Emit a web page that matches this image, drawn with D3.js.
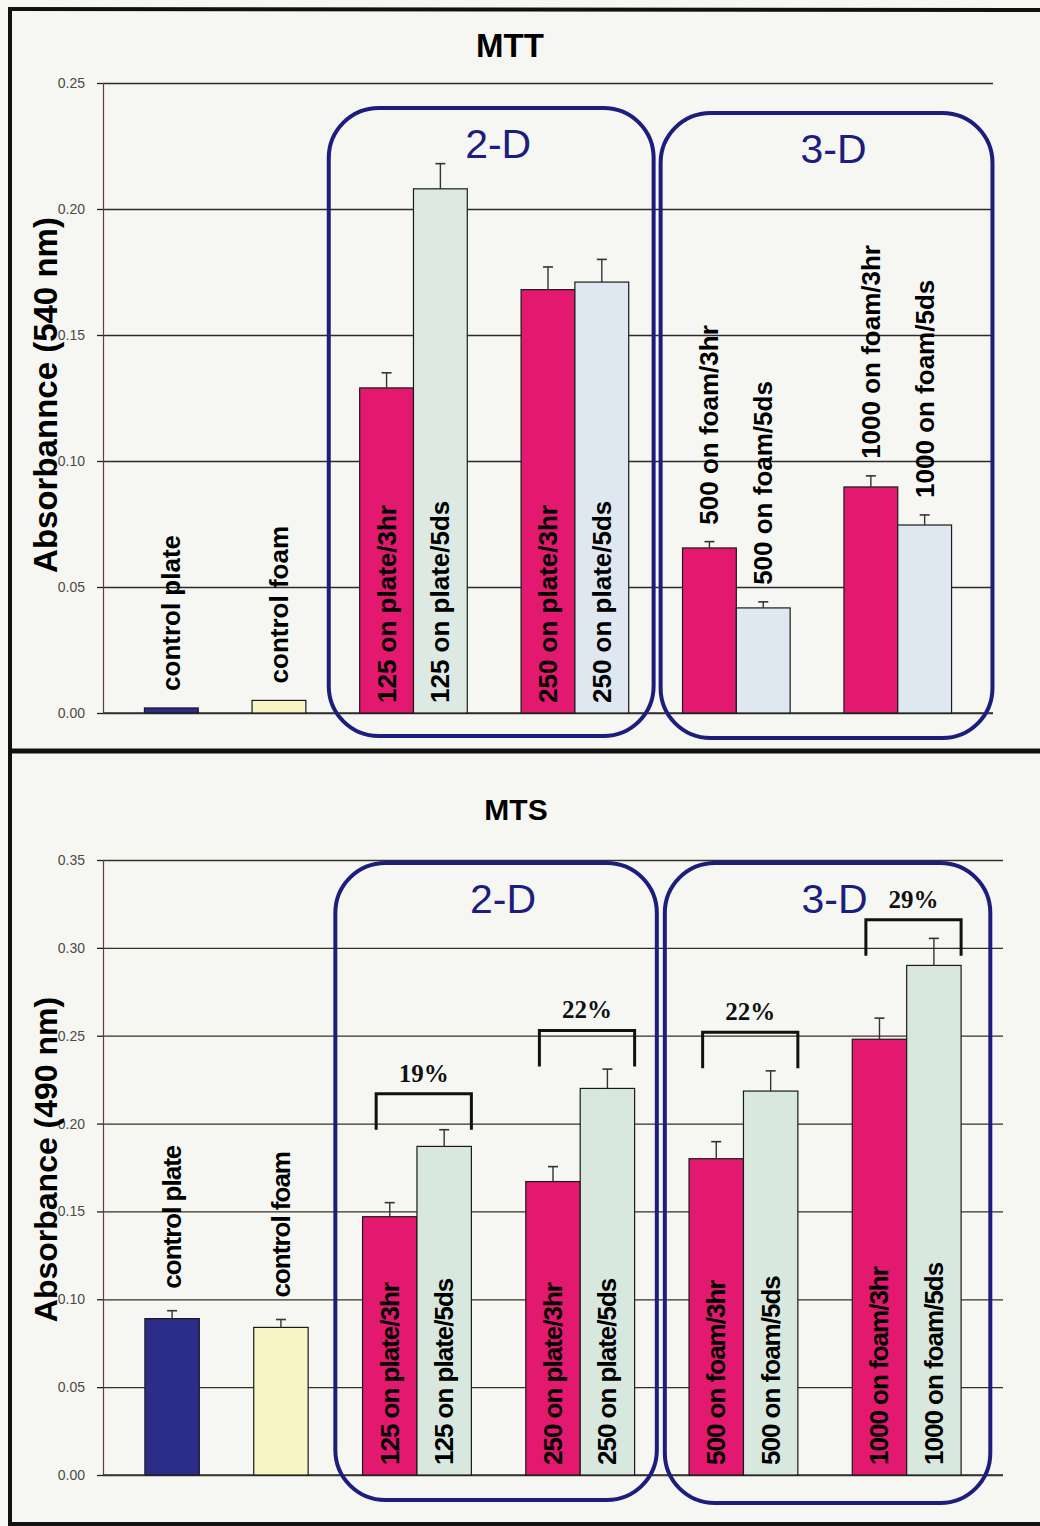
<!DOCTYPE html>
<html>
<head>
<meta charset="utf-8">
<script src="https://cdn.jsdelivr.net/npm/d3@7"></script>
<style>
  html, body { margin: 0; padding: 0; background: #f6f7f3; }
  svg { display: block; }
</style>
</head>
<body>
<svg id="fig" width="1040" height="1526"></svg>
<script>
// ---- data ----
const barLabels = [
  "control plate", "control foam",
  "125 on plate/3hr", "125 on plate/5ds",
  "250 on plate/3hr", "250 on plate/5ds",
  "500 on foam/3hr", "500 on foam/5ds",
  "1000 on foam/3hr", "1000 on foam/5ds"
];
// cluster each bar belongs to (bars of one cluster sit side by side)
const barClusters = ["control plate", "control foam", "125", "125", "250", "250", "500", "500", "1000", "1000"];

// MTT assay, absorbance at 540 nm
const mttValues = [0.002, 0.005, 0.129, 0.208, 0.168, 0.171, 0.0655, 0.0417, 0.0897, 0.0746];
const mttErrors = [0, 0, 0.006, 0.010, 0.009, 0.009, 0.0025, 0.0024, 0.0044, 0.0040];
const mttTicks = [0, 0.05, 0.10, 0.15, 0.20, 0.25];

// MTS assay, absorbance at 490 nm
const mtsValues = [0.089, 0.084, 0.147, 0.187, 0.167, 0.220, 0.180, 0.2185, 0.248, 0.290];
const mtsErrors = [0.0045, 0.0045, 0.008, 0.0095, 0.0085, 0.011, 0.0097, 0.0115, 0.012, 0.0154];
const mtsTicks = [0, 0.05, 0.10, 0.15, 0.20, 0.25, 0.30, 0.35];

// culture format boxes
const formatNames = ["2-D", "3-D"];
const formatClusters = [["125", "250"], ["500", "1000"]];

// MTS increase brackets (3hr -> 5ds)
const bracketLabels = ["19%", "22%", "22%", "29%"];
const bracketClusters = ["125", "250", "500", "1000"];
const bracketLevels = [0.217, 0.253, 0.252, 0.316];

// ---- drawing ----
const W = 1040, H = 1526;
const svg = d3.select("#fig");
svg.append("rect").attr("width", W).attr("height", H).attr("fill", "#f6f7f3");

const NAVY = "#1d1d7e";
const SANS = "'Liberation Sans', Arial, Helvetica, sans-serif";
const SERIF = "'Liberation Serif', 'Times New Roman', serif";

// slot index of each bar: one empty slot between clusters
function slotIndices(clusters) {
  let s = 0;
  return clusters.map((c, i) => {
    if (i > 0) s += (c === clusters[i - 1]) ? 1 : 2;
    return s;
  });
}
const slots = slotIndices(barClusters);
const nSlots = d3.max(slots) + 1;

function drawChart(cfg) {
  const g = svg.append("g");
  const x = d3.scaleBand()
    .domain(d3.range(nSlots))
    .range(cfg.xRange)
    .paddingInner(0)
    .paddingOuter(0.77);
  const y = d3.scaleLinear().domain([0, cfg.yMax]).range(cfg.yRange);
  const bw = x.bandwidth();
  const slotCenter = s => x(0) + (s + 0.5) * x.step();

  // gridlines
  g.append("g")
    .attr("transform", `translate(${cfg.xRange[0]},0)`)
    .call(d3.axisLeft(y).tickValues(cfg.ticks).tickSize(-(cfg.xRange[1] - cfg.xRange[0])).tickFormat(""))
    .call(a => a.select(".domain").remove())
    .call(a => a.selectAll("line").attr("stroke", cfg.gridColor).attr("stroke-width", 1.3));

  // y axis
  g.append("g")
    .attr("transform", `translate(${cfg.xRange[0]},0)`)
    .call(d3.axisLeft(y).tickValues(cfg.ticks).tickSize(6).tickPadding(12).tickFormat(d3.format(".2f")))
    .call(a => a.select(".domain").attr("stroke", "#5e3a58").attr("stroke-width", 1.2))
    .call(a => a.selectAll("line").attr("stroke", "#222").attr("stroke-width", 1.3))
    .call(a => a.selectAll("text")
      .attr("font-family", SANS).attr("font-size", 14).attr("fill", "#4a4a4a"));

  // baseline
  g.append("line")
    .attr("x1", cfg.xRange[0]).attr("x2", cfg.xRange[1])
    .attr("y1", y(0)).attr("y2", y(0))
    .attr("stroke", "#333").attr("stroke-width", 1.5);

  const bars = barLabels.map((label, i) => ({
    label, i, cluster: barClusters[i], slot: slots[i],
    value: cfg.values[i], err: cfg.errors[i]
  }));

  // bars
  g.selectAll("rect.bar").data(bars).join("rect")
    .attr("class", "bar")
    .attr("x", d => x(d.slot))
    .attr("y", d => y(d.value))
    .attr("width", bw)
    .attr("height", d => y(0) - y(d.value))
    .attr("fill", d => cfg.fill(d))
    .attr("stroke", "#1a1a1a").attr("stroke-width", 1.2);

  // error bars (upper whisker only)
  const eb = g.selectAll("g.err").data(bars.filter(d => d.err > 0)).join("g").attr("class", "err");
  eb.append("line")
    .attr("x1", d => x(d.slot) + bw / 2).attr("x2", d => x(d.slot) + bw / 2)
    .attr("y1", d => y(d.value)).attr("y2", d => y(d.value + d.err))
    .attr("stroke", "#333").attr("stroke-width", 1.4);
  eb.append("line")
    .attr("x1", d => x(d.slot) + bw / 2 - 5).attr("x2", d => x(d.slot) + bw / 2 + 5)
    .attr("y1", d => y(d.value + d.err)).attr("y2", d => y(d.value + d.err))
    .attr("stroke", "#333").attr("stroke-width", 1.6);

  // bar labels: inside at the base if they fit, otherwise above the bar
  bars.forEach(d => {
    const cx = x(d.slot) + bw / 2;
    const t = g.append("text")
      .text(d.label)
      .attr("font-family", SANS).attr("font-weight", "bold")
      .attr("font-size", 26)
      .attr("letter-spacing", cfg.labelSpacing)
      .attr("fill", "#000")
      .attr("text-anchor", "start");
    const len = t.node().getComputedTextLength();
    const hPx = y(0) - y(d.value);
    const startY = (hPx > len + 30) ? y(0) - 10 : y(d.value + d.err) - cfg.aboveGap;
    t.attr("transform", `translate(${cx + 9},${startY}) rotate(-90)`);
  });

  // rounded boxes for the culture formats (edges sit in the empty slots)
  formatNames.forEach((name, k) => {
    const b = cfg.boxes[k];
    const members = bars.filter(d => formatClusters[k].includes(d.cluster));
    const first = d3.min(members, d => d.slot), last = d3.max(members, d => d.slot);
    const x0 = slotCenter(first - 1) + b.dl;
    const x1 = slotCenter(last + 1) + b.dr;
    g.append("rect")
      .attr("x", x0).attr("y", b.top)
      .attr("width", x1 - x0).attr("height", b.bottom - b.top)
      .attr("rx", 50).attr("ry", 50)
      .attr("fill", "none").attr("stroke", NAVY).attr("stroke-width", 4);
    g.append("text")
      .text(name)
      .attr("x", (x0 + x1) / 2 + 7).attr("y", b.top + 50)
      .attr("text-anchor", "middle")
      .attr("font-family", SANS).attr("font-size", 41)
      .attr("fill", NAVY);
  });

  // brackets
  if (cfg.brackets) {
    bracketLabels.forEach((lab, k) => {
      const members = bars.filter(d => d.cluster === bracketClusters[k]);
      const bx0 = x(members[0].slot) + bw * 0.25;
      const bx1 = x(members[members.length - 1].slot) + bw;
      const by = y(bracketLevels[k]);
      g.append("path")
        .attr("d", `M${bx0},${by + 36}V${by}H${bx1}V${by + 36}`)
        .attr("fill", "none").attr("stroke", "#111").attr("stroke-width", 3);
      g.append("text")
        .text(lab)
        .attr("x", (bx0 + bx1) / 2).attr("y", by - 12)
        .attr("text-anchor", "middle")
        .attr("font-family", SERIF).attr("font-weight", "bold").attr("font-size", 25)
        .attr("fill", "#111");
    });
  }

  // title and y-axis title
  g.append("text")
    .text(cfg.title)
    .attr("x", cfg.titleX).attr("y", cfg.titleY)
    .attr("text-anchor", "middle")
    .attr("font-family", SANS).attr("font-weight", "bold").attr("font-size", cfg.titleSize)
    .attr("fill", "#000");
  g.append("text")
    .text(cfg.yTitle)
    .attr("transform", `translate(57,${(cfg.yRange[0] + cfg.yRange[1]) / 2 + cfg.yTitleShift}) rotate(-90)`)
    .attr("text-anchor", "middle")
    .attr("font-family", SANS).attr("font-weight", "bold").attr("font-size", cfg.yTitleSize)
    .attr("fill", "#000");
}

const colMagenta = "#e2196f";
const colNavy = "#2c2d8b";
const colCream = "#f7f4c6";

drawChart({
  title: "MTT", titleX: 510, titleY: 57, titleSize: 33,
  yTitle: "Absorbannce (540 nm)", yTitleSize: 33, yTitleShift: -3,
  values: mttValues, errors: mttErrors, ticks: mttTicks, yMax: 0.25,
  yRange: [713, 83], xRange: [103, 993],
  gridColor: "#2b2b2b", labelSpacing: 0, aboveGap: 17,
  fill: d => d.label === "control plate" ? colNavy
           : d.label === "control foam" ? colCream
           : d.label.endsWith("3hr") ? colMagenta
           : d.cluster === "125" ? "#dde9e3" : "#dfe8f0",
  boxes: [
    { dl: -4, dr: -2, top: 108, bottom: 736 },
    { dl: 5, dr: 14, top: 113, bottom: 738 }
  ],
  brackets: false
});

drawChart({
  title: "MTS", titleX: 516, titleY: 820, titleSize: 30,
  yTitle: "Absorbance (490 nm)", yTitleSize: 32, yTitleShift: -8,
  values: mtsValues, errors: mtsErrors, ticks: mtsTicks, yMax: 0.35,
  yRange: [1475, 860], xRange: [103, 1003],
  gridColor: "#35331f", labelSpacing: -1, aboveGap: 22,
  fill: d => d.label === "control plate" ? colNavy
           : d.label === "control foam" ? colCream
           : d.label.endsWith("3hr") ? colMagenta
           : "#d9e8de",
  boxes: [
    { dl: 0, dr: -5, top: 863, bottom: 1500 },
    { dl: 3, dr: 2, top: 863, bottom: 1503 }
  ],
  brackets: true
});

// figure frame
const frame = svg.append("g").attr("stroke", "#111").attr("fill", "none");
frame.append("line").attr("x1", 8).attr("x2", W).attr("y1", 9).attr("y2", 10).attr("stroke-width", 4);
frame.append("line").attr("x1", 10).attr("x2", 10).attr("y1", 7).attr("y2", H).attr("stroke-width", 4);
frame.append("line").attr("x1", 8).attr("x2", W).attr("y1", 751).attr("y2", 751).attr("stroke-width", 5);
frame.append("line").attr("x1", 8).attr("x2", W).attr("y1", 1524).attr("y2", 1524).attr("stroke-width", 4);
</script>
</body>
</html>
